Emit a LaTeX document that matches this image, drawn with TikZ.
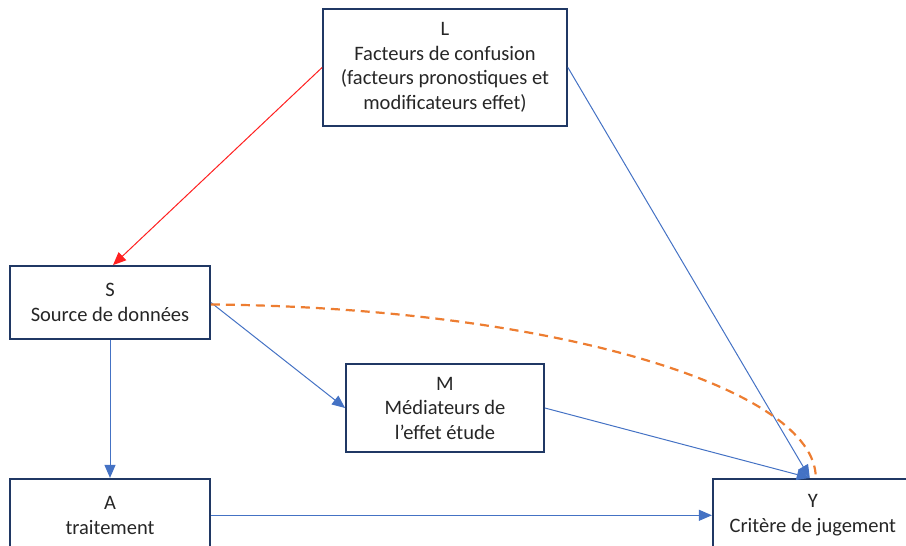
\documentclass[tikz,border=0pt]{standalone}
\usepackage{fontspec}
\setmainfont{Carlito}
\usepackage{xcolor}
\usetikzlibrary{positioning,arrows.meta}
\definecolor{boxnavy}{HTML}{203864}
\definecolor{linkblue}{HTML}{4472C4}
\definecolor{linkred}{HTML}{FF2020}
\definecolor{linkorange}{HTML}{ED7D31}

\begin{document}
\begin{tikzpicture}[x=1pt, y=-1pt, font=\fontsize{20.5}{24.5}\selectfont,
  box/.style={draw=boxnavy, line width=1.8pt, shape=rectangle, align=center, inner sep=0pt, text=black!85},
  tip/.style={-{Triangle[length=13pt, width=11pt]}}]
\useasboundingbox (0,0) rectangle (906,546);
\node[box, minimum width=244pt, minimum height=117pt] (L) at (445,67.5) {L\\Facteurs de confusion\\(facteurs pronostiques et\\modificateurs effet)};
\node[box, minimum width=200pt, minimum height=73pt] (S) at (110,302.5) {S\\Source de données};
\node[box, minimum width=198pt, minimum height=88pt] (M) at (445,408) {M\\Médiateurs de\\l’effet étude};
\node[box, minimum width=200pt, minimum height=73pt, below=138pt of S] (A) {A\\traitement};
\node[box, minimum width=200pt, minimum height=73pt, right=501pt of A] (Y) {Y\\Critère de jugement};
\draw[linkred, line width=1pt, tip] (L.west) -- ([xshift=3pt] S.north);
\draw[linkblue, line width=1pt, tip] (L.east) -- ([xshift=-3pt] Y.north);
\draw[linkblue, line width=1pt, tip] (S.east) -- (M.west);
\draw[linkblue, line width=1pt, tip] (M.east) -- ([xshift=-3pt] Y.north);
\draw[linkblue, line width=1pt, tip] (S.south) -- (A.north);
\draw[linkblue, line width=1pt, tip] (A.east) -- (Y.west);
\draw[linkorange, line width=2.2pt, dash pattern=on 9pt off 6pt] ([yshift=-2pt] S.east) .. controls +(340,3) and +(0,-90) .. ([xshift=3pt] Y.north);
\end{tikzpicture}
\end{document}
